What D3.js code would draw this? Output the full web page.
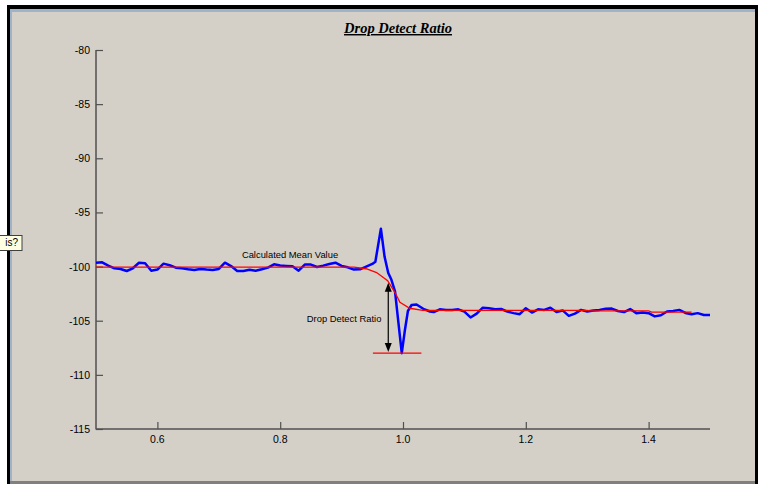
<!DOCTYPE html>
<html><head><meta charset="utf-8">
<script src="https://cdn.jsdelivr.net/npm/d3@7"></script>
<style>
html,body{margin:0;padding:0;background:#fff;}
svg{display:block;}
text{font-family:"Liberation Sans",Arial,sans-serif;}
</style></head>
<body>
<svg id="c" width="765" height="484"></svg>
<script>
// ---- data ----
const title = "Drop Detect Ratio";
const xTicks = [0.6, 0.8, 1.0, 1.2, 1.4];
const xTickLabels = ["0.6", "0.8", "1.0", "1.2", "1.4"];
const yTicks = [-80, -85, -90, -95, -100, -105, -110, -115];
const yTickLabels = ["-80", "-85", "-90", "-95", "-100", "-105", "-110", "-115"];

// measured signal (blue)
const signalX = [0.50,0.51,0.52,0.53,0.54,0.55,0.56,0.57,0.58,0.59,0.60,0.61,0.62,0.63,0.64,0.65,0.66,0.67,0.68,0.69,
  0.70,0.71,0.72,0.73,0.74,0.75,0.76,0.77,0.78,0.79,0.80,0.81,0.82,0.83,0.84,0.85,0.86,0.87,0.88,0.89,0.90,0.91,0.92,0.93,0.94,0.95,
  0.955,0.964,0.970,0.976,0.981,0.987,0.992,0.998,1.003,1.008,1.014,1.022,1.033,1.044,1.05,
  1.06,1.07,1.08,1.09,1.10,1.11,1.12,1.13,1.14,1.15,1.16,1.17,1.18,1.19,1.20,1.21,1.22,1.23,1.24,1.25,1.26,1.27,1.28,1.29,
  1.30,1.31,1.32,1.33,1.34,1.35,1.36,1.37,1.38,1.39,1.40,1.41,1.42,1.43,1.44,1.45,1.46,1.47,1.48,1.49,1.50];
const signalY = [-99.65,-99.61,-99.92,-100.16,-100.22,-100.41,-100.16,-99.65,-99.70,-100.38,-100.28,-99.73,-99.88,-100.10,-100.16,-100.25,-100.31,-100.22,-100.28,-100.31,
  -100.22,-99.64,-99.95,-100.41,-100.41,-100.30,-100.38,-100.25,-100.10,-99.79,-99.91,-99.94,-99.97,-100.38,-99.82,-99.82,-100.04,-99.91,-99.76,-99.64,-99.94,-100.07,-100.28,-100.25,-100.01,-99.76,
  -99.55,-96.5,-99.1,-100.6,-101.2,-102.3,-104.9,-108.0,-105.9,-104.1,-103.55,-103.5,-103.9,-104.15,-104.2,
  -103.95,-104.0,-104.0,-103.95,-104.16,-104.7,-104.35,-103.8,-103.85,-103.95,-103.92,-104.16,-104.3,-104.4,-103.85,-104.25,-103.95,-104.0,-103.8,-104.2,-104.05,-104.55,-104.35,-104.0,
  -104.15,-104.05,-104.0,-103.9,-103.88,-104.1,-104.2,-103.92,-104.3,-104.25,-104.3,-104.6,-104.5,-104.15,-104.1,-104.0,-104.28,-104.4,-104.3,-104.47,-104.47];

// calculated mean value (red)
const meanX = [0.50,0.92,0.94,0.957,0.975,0.987,0.995,1.011,1.032,1.30,1.305,1.40,1.405,1.47];
const meanY = [-100.05,-100.05,-100.2,-100.55,-101.3,-102.4,-103.3,-103.85,-104.05,-104.05,-104.1,-104.1,-104.2,-104.2];

// annotation values
const dropTop = -101.5, dropBottom = -107.9, dropX = 0.976;
const minLevel = -108.0, minLineX = [0.951, 1.03];
const meanLabel = "Calculated Mean Value";
const dropLabel = "Drop Detect Ratio";
const tipLabel = "is?";

// ---- drawing ----
const svg = d3.select("#c");
// window frame
svg.append("rect").attr("x",7).attr("y",5).attr("width",751).attr("height",479).attr("fill","#000");
svg.append("rect").attr("x",10).attr("y",9).attr("width",745).attr("height",475).attr("fill","#9fb3c8");
svg.append("rect").attr("x",12).attr("y",12).attr("width",743).attr("height",469).attr("fill","#d4d0c8");
svg.append("rect").attr("x",10).attr("y",481).attr("width",745).attr("height",3).attr("fill","#808080");

const x = d3.scaleLinear().domain([0.5, 1.5]).range([96, 710]);
const y = d3.scaleLinear().domain([-115, -80]).range([429, 50]);

// title
svg.append("text").attr("x",398).attr("y",33).attr("text-anchor","middle")
  .style("font-family",'"Liberation Serif","Times New Roman",serif')
  .style("font-weight","bold").style("font-style","italic").style("font-size","14.5px")
  .style("text-decoration","underline").attr("fill","#000").text(title);

// axes
const axisColor = "#505050";
const yAxis = svg.append("g").attr("transform","translate(96,0)")
  .call(d3.axisRight(y).tickValues(yTicks).tickSize(7).tickFormat(()=>""));
const xAxis = svg.append("g").attr("transform","translate(0,429)")
  .call(d3.axisTop(x).tickValues(xTicks).tickSize(7).tickFormat(()=>""));
[yAxis,xAxis].forEach(g=>{
  g.select(".domain").remove();
  g.selectAll(".tick line").attr("stroke",axisColor).attr("stroke-width",1.2);
});
svg.append("line").attr("x1",96).attr("x2",96).attr("y1",y(-80)).attr("y2",y(-115)+0.5)
  .attr("stroke",axisColor).attr("stroke-width",1.5);
svg.append("line").attr("x1",96).attr("x2",x(1.5)).attr("y1",y(-115)).attr("y2",y(-115))
  .attr("stroke",axisColor).attr("stroke-width",1.5);

svg.selectAll(".ylab").data(yTicks).enter().append("text")
  .attr("x",90).attr("y",d=>y(d)+4).attr("text-anchor","end")
  .style("font-size","10.5px").attr("fill","#000").text((d,i)=>yTickLabels[i]);
svg.selectAll(".xlab").data(xTicks).enter().append("text")
  .attr("x",d=>x(d)).attr("y",443).attr("text-anchor","middle")
  .style("font-size","10.5px").attr("fill","#000").text((d,i)=>xTickLabels[i]);

// lines
const line = d3.line().x(d=>x(d[0])).y(d=>y(d[1])).curve(d3.curveLinear);
const sig = signalX.map((v,i)=>[v, signalY[i]]);
const mean = meanX.map((v,i)=>[v, meanY[i]]);

svg.append("path").attr("d",line(sig)).attr("fill","none").attr("stroke","#0000ff")
  .attr("stroke-width",2.5).attr("stroke-linejoin","round");
svg.append("path").attr("d",line(mean)).attr("fill","none").attr("stroke","#ff0000")
  .attr("stroke-width",1.3);

// min level line
svg.append("line").attr("x1",x(minLineX[0])).attr("x2",x(minLineX[1]))
  .attr("y1",y(minLevel)).attr("y2",y(minLevel)).attr("stroke","#ff0000").attr("stroke-width",1.3);

// double arrow
const ax = x(dropX), at = y(dropTop), ab = y(dropBottom);
svg.append("line").attr("x1",ax).attr("x2",ax).attr("y1",at+6).attr("y2",ab-6)
  .attr("stroke","#000").attr("stroke-width",1.2);
svg.append("path").attr("d",`M${ax},${at} L${ax-3.5},${at+9} L${ax+3.5},${at+9} Z`).attr("fill","#000");
svg.append("path").attr("d",`M${ax},${ab} L${ax-3.5},${ab-9} L${ax+3.5},${ab-9} Z`).attr("fill","#000");

// labels
svg.append("text").attr("x",x(0.7376)).attr("y",y(-99.2)).style("font-size","9.4px")
  .attr("fill","#000").text(meanLabel);
svg.append("text").attr("x",x(0.8434)).attr("y",y(-105.1)).style("font-size","9.4px")
  .attr("fill","#000").text(dropLabel);

// tooltip fragment at left edge
svg.append("rect").attr("x",-1).attr("y",235.5).attr("width",23).attr("height",15)
  .attr("fill","#ffffe1").attr("stroke","#404040").attr("stroke-width",1);
svg.append("text").attr("x",18).attr("y",246).attr("text-anchor","end")
  .style("font-size","10px").attr("fill","#000").text(tipLabel);
</script>
</body></html>
